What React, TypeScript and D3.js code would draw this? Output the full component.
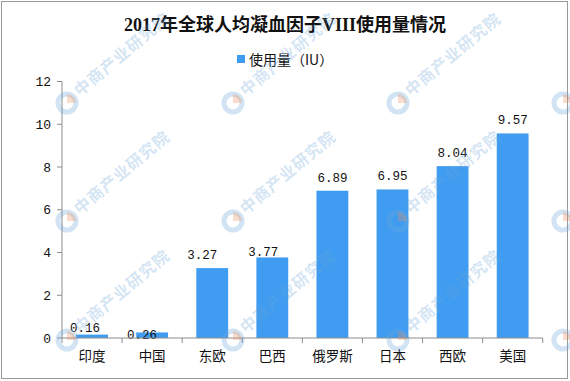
import React from "react";
import * as d3 from "d3";

const categories = ["印度", "中国", "东欧", "巴西", "俄罗斯", "日本", "西欧", "美国"];
const values = [0.16, 0.26, 3.27, 3.77, 6.89, 6.95, 8.04, 9.57];
const yTicks = [0, 2, 4, 6, 8, 10, 12];
const title = "2017年全球人均凝血因子VIII使用量情况";
const seriesName = "使用量（IU）";
const watermarkText = "中商产业研究院";
// manual label nudges (as placed in the original)
const labelDx = [-7, -10, -10, -9, 0, 0, 0, 0];
const labelDy = [6, 16, 0, 8, 0, 0, 0, 0];

const W = 570;
const H = 381;
const BAR = "#3f9cf0";
const AXIS = "#8c8c8c";

export default function App() {
  const x = d3.scaleBand<string>().domain(categories).range([62, 542.7]).paddingInner(0.47).paddingOuter(0.235);
  const y = d3.scaleLinear().domain([0, 12]).range([338, 81.5]);
  const step = x.step();
  const bounds = d3.range(categories.length + 1).map((i) => 62 + i * step);

  const wmCols = [67, 233, 398, 563];
  const wmRows = [103, 221, 340];
  const mono = "'Liberation Mono', 'DejaVu Sans Mono', monospace";
  const cjk = "'Liberation Serif', 'Noto Sans CJK SC', serif";

  return (
    <svg width={W} height={H} style={{ position: "absolute", left: 0, top: 0, background: "#fff" }}>
      <rect x={0} y={0} width={W} height={H} fill="#fff" />
      <rect x={1.5} y={1.5} width={566} height={377} fill="none" stroke="#9a9a9a" strokeWidth={1} />

      <text x={285} y={31} textAnchor="middle" fontFamily={cjk} fontWeight="bold" fontSize={18} fill="#111">
        {title}
      </text>

      <rect x={237} y={55} width={8} height={8} fill={BAR} />
      <text x={249} y={64.5} fontFamily="'Noto Sans CJK SC', sans-serif" fontSize={14} fill="#111">
        {seriesName}
      </text>

      {/* bars */}
      {categories.map((c, i) => (
        <rect key={c} x={x(c)} y={y(values[i])} width={x.bandwidth()} height={y(0) - y(values[i])} fill={BAR} />
      ))}

      {/* value labels */}
      {categories.map((c, i) => (
        <text
          key={"v" + c}
          x={(x(c) as number) + x.bandwidth() / 2 + labelDx[i]}
          y={y(values[i]) - 9 + labelDy[i]}
          textAnchor="middle"
          fontFamily={mono}
          fontSize={12.5}
          fill="#111"
        >
          {values[i].toFixed(2)}
        </text>
      ))}

      {/* y axis */}
      <line x1={62} x2={62} y1={y(12)} y2={y(0)} stroke={AXIS} />
      {yTicks.map((t) => (
        <g key={"yt" + t}>
          <line x1={57} x2={62} y1={y(t)} y2={y(t)} stroke={AXIS} />
          <text x={51} y={y(t) + 4.5} textAnchor="end" fontFamily={mono} fontSize={13} fill="#111">
            {t}
          </text>
        </g>
      ))}

      {/* x axis */}
      <line x1={62} x2={bounds[bounds.length - 1]} y1={y(0)} y2={y(0)} stroke={AXIS} />
      {bounds.map((b, i) => (
        <line key={"xt" + i} x1={b} x2={b} y1={y(0)} y2={y(0) + 5} stroke={AXIS} />
      ))}
      {categories.map((c) => (
        <text
          key={"xl" + c}
          x={(x(c) as number) + x.bandwidth() / 2}
          y={361}
          textAnchor="middle"
          fontFamily="'Noto Sans CJK SC', sans-serif"
          fontSize={13.5}
          fill="#111"
        >
          {c}
        </text>
      ))}

      {/* watermarks */}
      <g pointerEvents="none">
        {wmRows.map((ry) =>
          wmCols.map((cx, ci) => (
            <g key={`wm${cx}-${ry}`} transform={`translate(${cx},${ry})`}>
              <circle r={9} fill="none" stroke="#6aa6d8" strokeOpacity={0.3} strokeWidth={5} />
              <path d="M0,-9 A9,9 0 0,1 9,0 L0,0 Z" fill="#f08a5d" fillOpacity={0.3} />
              {ci < wmCols.length - 1 && (
                <text
                  transform="translate(13,-6) rotate(-40)"
                  fontFamily="'Noto Sans CJK SC', sans-serif"
                  fontWeight="bold"
                  fontSize={16}
                  letterSpacing={1}
                  fill="#6aa6d8"
                  fillOpacity={0.3}
                >
                  {watermarkText}
                </text>
              )}
            </g>
          ))
        )}
      </g>
    </svg>
  );
}
